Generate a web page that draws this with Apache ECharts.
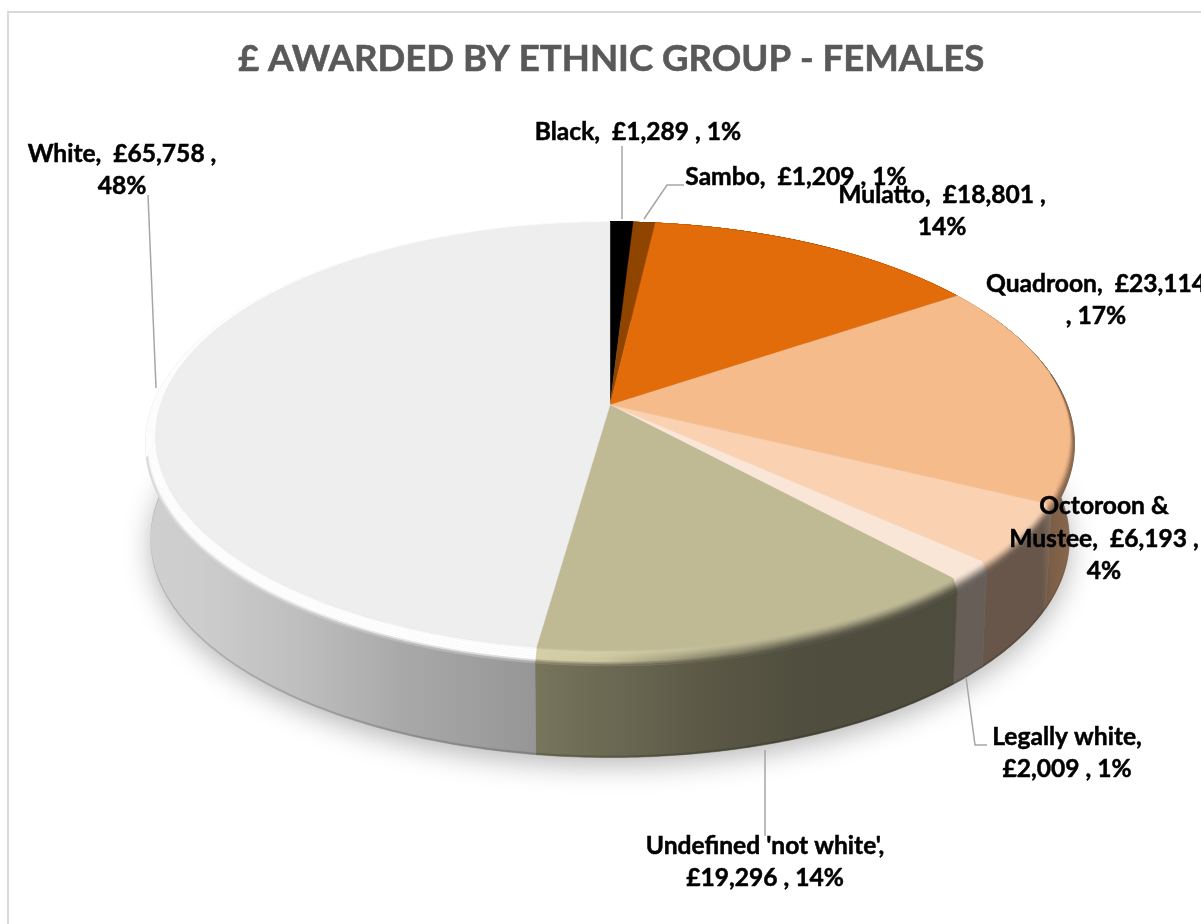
<!DOCTYPE html>
<html>
<head>
<meta charset="utf-8">
<style>html,body{margin:0;padding:0;background:#fff}#chart{width:1201px;height:924px}</style>
<script src="https://cdn.jsdelivr.net/npm/echarts@6/dist/echarts.min.js"></script>
</head>
<body>
<div id="chart"></div>
<script>
// Awards in pounds, clockwise from twelve o'clock.
const categories = ['Black', 'Sambo', 'Mulatto', 'Quadroon', 'Octoroon & Mustee', 'Legally white', "Undefined 'not white'", 'White'];
const amounts = [1289, 1209, 18801, 23114, 6193, 2009, 19296, 65758];
const sliceColors = ['#000000', '#8f4500', '#e26b0a', '#f6bb8b', '#fbd2b1', '#fae6d7', '#bfba94', '#eeeeee'];
const labelFormats = ['{n},  {a} , {p}', '{n},  {a} , {p}', '{n},  {a} ,\n{p}', '{n},  {a}\n, {p}', '{n},  {a} ,\n{p}', '{n},\n{a} , {p}', '{n},\n{a} , {p}', '{n},  {a} ,\n{p}'];
const chartTitle = '£ AWARDED BY ETHNIC GROUP - FEMALES';

// Where each data label sits and how its leader line runs.
const labelLayout = [
  { x: 638, y: 132, leader: [[622, 146], [622, 219]] },
  { x: 796, y: 177, leader: [[684, 185], [667, 185], [644, 219]] },
  { x: 942, y: 211 },
  { x: 1096, y: 300 },
  { x: 1104, y: 539 },
  { x: 1067, y: 753, leader: [[966, 677], [975, 745], [987, 745]] },
  { x: 765, y: 862, leader: [[765, 750], [765, 836]] },
  { x: 122, y: 170, leader: [[148, 195], [156, 388]] }
];

const total = amounts.reduce((a, b) => a + b, 0);
const startShare = amounts.map((_, i) => amounts.slice(0, i).reduce((a, b) => a + b, 0) / total);

// Perspective projection of the tilted disc.
const persp = 0.145;
const cx = 610;
const faceDisc = { rx: 452, ry: 209.5, cy: 405, skew: 2.5 };
const rimDisc = { rx: 459.6, ry: 217.3, cy: 411.8, skew: 0 };
const baseDisc = { rx: 454.5, ry: 213.5, cy: 507.8, skew: 0 };

function project(disc, angle) {
  const X = Math.sin(angle), Z = -Math.cos(angle), w = 1 - persp * Z;
  return [cx + disc.rx * X / w + disc.skew * Math.abs(X), disc.cy + disc.ry * Z / w];
}
function arc(disc, a0, a1) {
  const steps = Math.max(2, Math.ceil((a1 - a0) / 0.012));
  const pts = [];
  for (let i = 0; i <= steps; i++) pts.push(project(disc, a0 + (a1 - a0) * i / steps));
  return pts;
}
function sliceAngles(i) {
  const a0 = startShare[i] * Math.PI * 2;
  return [a0, a0 + amounts[i] / total * Math.PI * 2];
}

// Horizontal light falloff across the outer wall.
const lightStops = [[145, .87], [200, .86], [300, .8], [400, .71], [535, .63], [600, .57], [700, .48], [800, .42], [960, .41], [1042, .41], [1050, .5], [1075, .56]];
const gradX0 = 145, gradX1 = 1075;
function light(x) {
  for (let i = 1; i < lightStops.length; i++) {
    if (x <= lightStops[i][0]) {
      const [x0, v0] = lightStops[i - 1], [x1, v1] = lightStops[i];
      return v0 + (v1 - v0) * (x - x0) / (x1 - x0);
    }
  }
  return lightStops[lightStops.length - 1][1];
}
function shade(hex, k) {
  const n = parseInt(hex.slice(1), 16);
  const c = [n >> 16 & 255, n >> 8 & 255, n & 255].map(v => Math.min(255, Math.round(v * k)));
  return 'rgb(' + c.join(',') + ')';
}
function hGradient(fn) {
  const stops = lightStops.map(s => ({ offset: (s[0] - gradX0) / (gradX1 - gradX0), color: fn(s[0]) }));
  return new echarts.graphic.LinearGradient(gradX0, 0, gradX1, 0, stops, true);
}

// Angular zones of the bevel: how far its outer edge darkens towards the wall.
// The far side tilts away from the viewer; the far left catches the light.
const bevelZones = [
  { from: 0, to: 1.05, outer: .5 },
  { from: 1.05, to: 1.4, outer: .75 },
  { from: 1.4, to: 4.51, outer: 1 },
  { from: 4.51, to: Math.PI * 2, outer: 0 }
];

// Bevel profile: t runs 0 at the flat top to 1 at the wall.
function bevelFactor(x, t, outer) {
  const h = Math.max(0, Math.min(1, (760 - x) / 180));
  const f = light(x);
  const target = outer === 0 ? 1.12 : 1 + (f - 1) * outer;
  const lit = t < .15 ? 1 + .12 * t / .15 : t < .72 ? 1.12 : 1.12 + (target - 1.12) * (t - .72) / .28;
  const s = t * t * (3 - 2 * t);
  const dark = 1 + (target - 1) * s;
  return h * lit + (1 - h) * dark;
}

function shadowItem(params) {
  if (params.dataIndex !== 0) return null;
  return {
    type: 'polygon',
    shape: { points: arc(baseDisc, 0, Math.PI * 2) },
    style: { fill: '#bbbbbb', shadowBlur: 28, shadowColor: 'rgba(0,0,0,0.28)', shadowOffsetY: 8 }
  };
}

function wallItem(params) {
  const i = params.dataIndex, [a0, a1] = sliceAngles(i), base = sliceColors[i];
  const top = arc(rimDisc, a0, a1), bottom = arc(baseDisc, a0, a1);
  const fill = hGradient(x => shade(base, light(x)));
  const lip = arc({ rx: baseDisc.rx, ry: baseDisc.ry, cy: baseDisc.cy - 2, skew: 0 }, a0, a1);
  return {
    type: 'group',
    children: [
      { type: 'polygon', shape: { points: top.concat(bottom.slice().reverse()) }, style: { fill: fill, stroke: fill, lineWidth: .6 } },
      { type: 'polygon', shape: { points: lip.concat(bottom.slice().reverse()) }, style: { fill: 'rgba(0,0,0,0.15)' } }
    ]
  };
}

function bevelItem(params) {
  const i = params.dataIndex, [a0, a1] = sliceAngles(i), base = sliceColors[i];
  const bands = 9, children = [];
  bevelZones.forEach(zone => {
    const from = Math.max(a0, zone.from), to = Math.min(a1, zone.to);
    if (to <= from) return;
    const face = arc(faceDisc, from, to), rim = arc(rimDisc, from, to);
    const at = t => face.map((p, k) => [p[0] + (rim[k][0] - p[0]) * t, p[1] + (rim[k][1] - p[1]) * t]);
    for (let b = 0; b < bands; b++) {
      const t0 = b / bands, t1 = (b + 1) / bands, tm = (t0 + t1) / 2;
      const fill = hGradient(x => shade(base, bevelFactor(x, tm, zone.outer)));
      children.push({
        type: 'polygon',
        shape: { points: at(t0).concat(at(t1).reverse()) },
        style: { fill: fill, stroke: fill, lineWidth: .5 }
      });
    }
  });
  return { type: 'group', children: children };
}

function faceItem(params) {
  const i = params.dataIndex, [a0, a1] = sliceAngles(i);
  return {
    type: 'polygon',
    shape: { points: [[cx, faceDisc.cy]].concat(arc(faceDisc, a0, a1)) },
    style: { fill: sliceColors[i], stroke: sliceColors[i], lineWidth: .4 }
  };
}

function labelText(i) {
  return labelFormats[i]
    .replace('{n}', categories[i].replace('& ', '&\n'))
    .replace('{a}', '£' + amounts[i].toLocaleString('en-GB'))
    .replace('{p}', Math.round(amounts[i] / total * 100) + '%');
}

function labelItem(params) {
  const i = params.dataIndex, l = labelLayout[i], children = [];
  if (l.leader) {
    children.push({
      type: 'polyline',
      shape: { points: l.leader },
      style: { stroke: '#a6a6a6', lineWidth: 1.5, fill: 'none' }
    });
  }
  children.push({
    type: 'text',
    style: {
      text: labelText(i), x: l.x, y: l.y, align: 'center', verticalAlign: 'middle',
      fontFamily: 'Lato', fontWeight: 'bold', fontSize: 24.6, lineHeight: 32.5, fill: '#000000',
      stroke: '#000000', lineWidth: .5
    }
  });
  return { type: 'group', children: children };
}

function layer(renderItem, z) {
  return { type: 'custom', coordinateSystem: 'none', silent: true, animation: false, z: z, data: amounts, renderItem: renderItem };
}

const chart = echarts.init(document.getElementById('chart'), null, { renderer: 'canvas' });
chart.setOption({
  backgroundColor: '#ffffff',
  animation: false,
  title: {
    text: chartTitle, left: 233, top: 36,
    textStyle: {
      fontFamily: 'Lato', fontWeight: 'bold', fontSize: 36.6, color: '#595959',
      textBorderColor: '#595959', textBorderWidth: .6
    }
  },
  graphic: [{
    type: 'rect', z: -1, silent: true,
    shape: { x: 8, y: 12, width: 1400, height: 1100 },
    style: { fill: 'none', stroke: '#d9d9d9', lineWidth: 2 }
  }],
  series: [
    layer(shadowItem, 1),
    layer(wallItem, 2),
    layer(bevelItem, 3),
    layer(faceItem, 4),
    layer(labelItem, 5)
  ]
});
</script>
</body>
</html>
